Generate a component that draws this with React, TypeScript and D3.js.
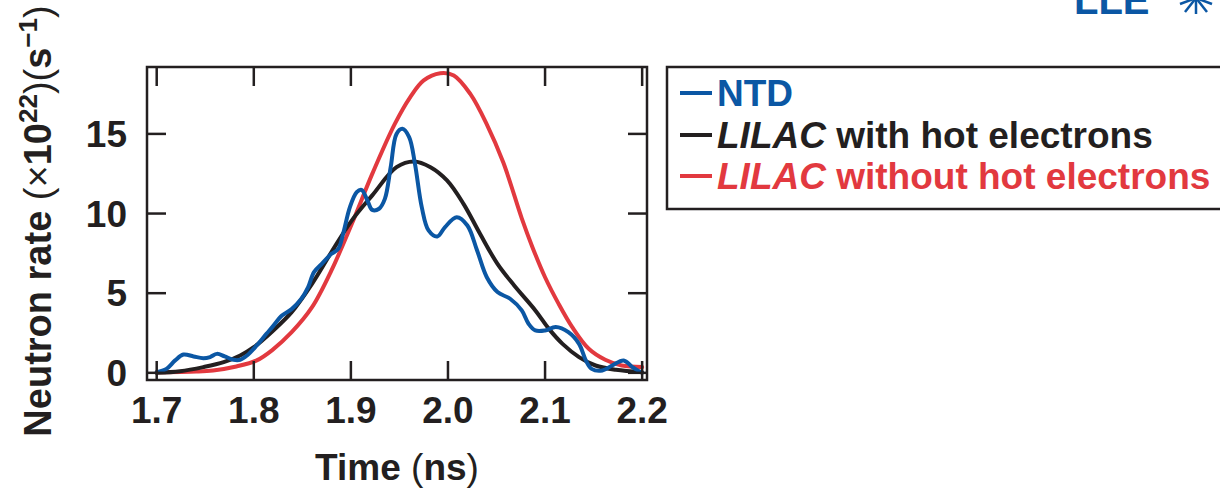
import React from "react";
import * as d3 from "d3";

// time (ns), neutron rate (x1e22 /s)
const ntd: [number, number][] = [
  [1.7, 0.04], [1.71, 0.25], [1.719, 0.78], [1.7275, 1.15], [1.738, 1.03],
  [1.748, 0.92], [1.755, 0.99], [1.762, 1.19], [1.77, 1.03], [1.779, 0.82],
  [1.786, 0.82], [1.793, 1.09], [1.803, 1.72], [1.813, 2.45], [1.819, 2.87],
  [1.829, 3.6], [1.839, 4.0], [1.849, 4.65], [1.856, 5.38], [1.862, 6.32],
  [1.87, 6.84], [1.88, 7.47], [1.887, 7.78], [1.892, 8.73], [1.899, 10.4],
  [1.906, 11.34], [1.911, 11.49], [1.917, 10.82], [1.922, 10.23], [1.929, 10.3],
  [1.935, 10.92], [1.941, 12.91], [1.947, 15.0], [1.953, 15.32], [1.96, 14.8],
  [1.966, 13.12], [1.973, 10.4], [1.98, 8.94], [1.989, 8.56], [1.997, 9.15],
  [2.009, 9.77], [2.02, 9.25], [2.03, 7.68], [2.04, 6.0], [2.051, 5.07],
  [2.064, 4.65], [2.076, 3.92], [2.083, 3.08], [2.09, 2.66], [2.1, 2.66],
  [2.111, 2.87], [2.124, 2.55], [2.135, 1.82], [2.142, 0.78], [2.148, 0.25],
  [2.159, 0.15], [2.169, 0.46], [2.181, 0.78], [2.19, 0.36], [2.2, 0.0],
];

const lilacHot: [number, number][] = [
  [1.7, 0.0], [1.724, 0.1], [1.748, 0.36], [1.769, 0.67], [1.786, 1.09],
  [1.8, 1.61], [1.819, 2.6], [1.839, 3.81], [1.86, 5.59], [1.88, 7.58],
  [1.901, 9.57], [1.922, 11.14], [1.947, 12.91], [1.965, 13.27], [1.982, 12.91],
  [1.999, 12.08], [2.016, 10.61], [2.033, 8.73], [2.051, 6.84], [2.068, 5.5],
  [2.09, 3.92], [2.104, 2.76], [2.118, 1.82], [2.135, 0.99],
  [2.152, 0.46], [2.173, 0.19], [2.2, 0.04],
];

const lilacNoHot: [number, number][] = [
  [1.7, 0.03], [1.741, 0.08], [1.758, 0.15], [1.782, 0.4], [1.803, 0.78],
  [1.819, 1.43], [1.839, 2.55], [1.86, 4.12], [1.88, 6.43], [1.901, 9.36],
  [1.922, 12.49], [1.945, 15.6], [1.961, 17.3], [1.975, 18.36], [1.992, 18.81],
  [2.006, 18.67], [2.023, 17.51], [2.04, 15.6], [2.057, 13.2], [2.076, 9.7],
  [2.087, 7.89], [2.1, 6.0], [2.114, 4.33], [2.128, 2.87], [2.145, 1.51],
  [2.162, 0.82], [2.179, 0.46], [2.2, 0.36],
];

const xTicks = [1.7, 1.8, 1.9, 2.0, 2.1, 2.2];
const yTicks = [0, 5, 10, 15];

const BLUE = "#0b57a4";
const BLACK = "#231f20";
const RED = "#e2393f";
const FONT = "'Liberation Sans', Arial, Helvetica, sans-serif";

const App = () => {
  const x = d3.scaleLinear().domain([1.69, 2.205]).range([147, 647]);
  const y = d3.scaleLinear().domain([-0.45, 19.2]).range([380, 67]);

  const line = d3
    .line<[number, number]>()
    .x((d) => x(d[0]))
    .y((d) => y(d[1]))
    .curve(d3.curveCatmullRom.alpha(0.5));

  const [x0, x1] = x.range();
  const [yb, yt] = y.range();
  const tickLen = 19;
  const fmt = d3.format(".1f");

  const series = [
    { name: "noHot", data: lilacNoHot, color: RED },
    { name: "hot", data: lilacHot, color: BLACK },
    { name: "ntd", data: ntd, color: BLUE },
  ];

  return (
    <svg
      width={1220}
      height={491}
      style={{ position: "absolute", left: 0, top: 0, background: "#fff" }}
      fontFamily={FONT}
    >
      {/* logo fragment at top right */}
      <text x={1074} y={14} fontSize={40} fontWeight="bold" fill={BLUE}>
        LLE
      </text>
      <g stroke={BLUE} strokeWidth={2.5}>
        <line x1={1196} y1={-2} x2={1196} y2={14} />
        <line x1={1196} y1={-2} x2={1185} y2={12} />
        <line x1={1196} y1={-2} x2={1207} y2={12} />
        <line x1={1196} y1={-2} x2={1180} y2={4} />
        <line x1={1196} y1={-2} x2={1212} y2={4} />
      </g>

      {/* curves */}
      <g fill="none" strokeWidth={4} strokeLinejoin="round" strokeLinecap="round">
        {series.map((s) => (
          <path key={s.name} d={line(s.data) || ""} stroke={s.color} />
        ))}
      </g>

      {/* frame and ticks */}
      <g stroke={BLACK} strokeWidth={2.5} fill="none">
        <rect x={x0} y={yt} width={x1 - x0} height={yb - yt} />
        {xTicks.map((t) => (
          <g key={"x" + t}>
            <line x1={x(t)} x2={x(t)} y1={yb} y2={yb - tickLen} />
            <line x1={x(t)} x2={x(t)} y1={yt} y2={yt + tickLen} />
          </g>
        ))}
        {yTicks.map((v) => (
          <g key={"y" + v}>
            <line x1={x0} x2={x0 + tickLen} y1={y(v)} y2={y(v)} />
            <line x1={x1} x2={x1 - tickLen} y1={y(v)} y2={y(v)} />
          </g>
        ))}
      </g>

      {/* tick labels */}
      <g fontSize={37} fontWeight="bold" fill={BLACK}>
        {xTicks.map((t) => (
          <text key={"xl" + t} x={x(t)} y={423} textAnchor="middle">
            {fmt(t)}
          </text>
        ))}
        {yTicks.map((v) => (
          <text key={"yl" + v} x={127} y={y(v) + 13} textAnchor="end">
            {v}
          </text>
        ))}
      </g>

      {/* axis titles */}
      <text x={397} y={480} textAnchor="middle" fontSize={37} fontWeight="bold" fill={BLACK}>
        <tspan>Time </tspan>
        <tspan fontWeight="normal">(</tspan>
        <tspan>ns</tspan>
        <tspan fontWeight="normal">)</tspan>
      </text>
      <text
        transform="translate(51, 221) rotate(-90)"
        textAnchor="middle"
        fontSize={38}
        fontWeight="bold"
        fill={BLACK}
      >
        <tspan>Neutron rate </tspan>
        <tspan fontWeight="normal">(×</tspan>
        <tspan>10</tspan>
        <tspan fontSize={26} dy={-14}>22</tspan>
        <tspan fontWeight="normal" dy={14}>)(</tspan>
        <tspan>s</tspan>
        <tspan fontSize={26} dy={-14}>−1</tspan>
        <tspan fontWeight="normal" dy={14}>)</tspan>
      </text>

      {/* legend */}
      <rect x={667} y={67} width={600} height={142} fill="none" stroke={BLACK} strokeWidth={2.5} />
      <g fontSize={37} fontWeight="bold">
        <line x1={680} x2={712} y1={93} y2={93} stroke={BLUE} strokeWidth={4} />
        <text x={717} y={106} fill={BLUE}>NTD</text>

        <line x1={680} x2={712} y1={135} y2={135} stroke={BLACK} strokeWidth={4} />
        <text x={717} y={148} fill={BLACK}>
          <tspan fontStyle="italic">LILAC</tspan> with hot electrons
        </text>

        <line x1={680} x2={712} y1={176} y2={176} stroke={RED} strokeWidth={4} />
        <text x={717} y={189} fill={RED}>
          <tspan fontStyle="italic">LILAC</tspan> without hot electrons
        </text>
      </g>
    </svg>
  );
};

export default App;
